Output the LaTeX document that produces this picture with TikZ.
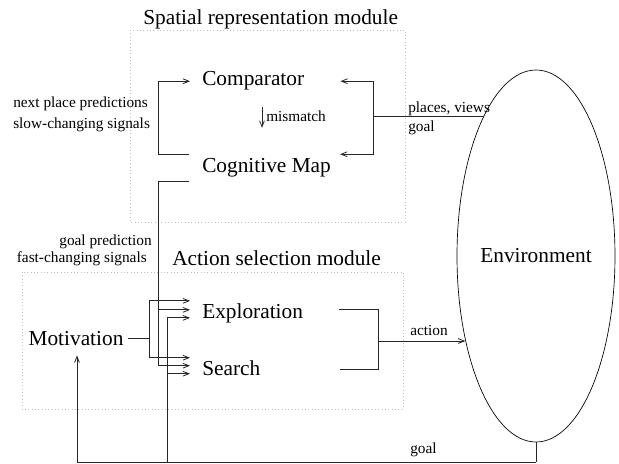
\documentclass[tikz,border=0pt]{standalone}
\usepackage{fontspec}
\setmainfont{Liberation Serif}
\usetikzlibrary{positioning,calc,arrows.meta,shapes.geometric}

\begin{document}
\begin{tikzpicture}[
  x=0.75pt, y=-0.75pt,
  >={Straight Barb[length=4.5pt,width=3.6pt]},
  wire/.style   ={line width=0.6pt, draw=black!85},
  modbox/.style ={draw=black!25, dotted, line width=0.5pt},
  bigtxt/.style ={font=\fontsize{16}{19}\selectfont, inner sep=0pt, anchor=base west},
  smtxt/.style  ={font=\fontsize{11.5}{13}\selectfont, inner sep=0pt, anchor=base west},
]
\useasboundingbox (0,0) rectangle (619,464);
% module frames
\draw[modbox] (130,30) rectangle (405,222);
\draw[modbox] (22,272) rectangle (403,409);
\node[bigtxt] (sptitle) at (143,25)  {Spatial representation module};
\node[bigtxt] (actitle) at (172,265) {Action selection module};
% blocks
\node[bigtxt] (comp)  at (202,85)  {Comparator};
\node[bigtxt] (cmap)  at (202,172) {Cognitive Map};
\node[bigtxt] (expl)  at (202,318) {Exploration};
\node[bigtxt] (srch)  at (202,375) {Search};
\node[bigtxt, anchor=base] (motiv) at (76,345) {Motivation};
\node[draw, ellipse, line width=0.5pt, minimum width=118.5pt, minimum height=279pt,
      font=\fontsize{16}{19}\selectfont, inner sep=0pt] (env) at (536,256) {Environment};
% arrow ends at the action blocks (shifts in px)
\path ([shift={(-12,-12)}]expl.west) coordinate (e1)
      ([shift={(-12,-3)}]expl.west)  coordinate (e2)
      ([shift={(-12,5)}]expl.west)   coordinate (e3)
      ([shift={(-12,-10)}]srch.west) coordinate (s1)
      ([shift={(-12,-2)}]srch.west)  coordinate (s2)
      ([shift={(-12,6)}]srch.west)   coordinate (s3);
% cognitive map -> comparator
\draw[wire,->] ([shift={(-13,-13)}]cmap.west) -- ++(-31,0) |- ([shift={(-12,1)}]comp.west);
\node[smtxt] (npp) at (13,107) {next place predictions};
\node[smtxt] (scs) at (13,128) {slow-changing signals};
% mismatch
\draw[wire,->] ([shift={(60,17)}]comp.south west) -- ++(0,21);
\node[smtxt] (mis) at (266,122) {mismatch};
% environment -> comparator, cognitive map
\coordinate (pv) at (373,116);
\draw[wire] (pv) -- (pv -| env.110.4);
\draw[wire,->] (pv) |- ([shift={(36,1)}]comp.east);
\draw[wire,->] (pv) |- ([shift={(9,-13)}]cmap.east);
\node[smtxt] (plv) at (408,112) {places, views};
\node[smtxt] (gl1) at (408,132) {goal};
% cognitive map -> exploration, search
\draw[wire] ([shift={(-13,14)}]cmap.west) -- ++(-31,0) coordinate (gp);
\draw[wire,->] (gp) |- (e2);
\draw[wire,->] (gp) |- (s2);
\node[smtxt, anchor=base east] (gpr) at (152,245) {goal prediction};
\node[smtxt, anchor=base east] (fcs) at (147,262) {fast-changing signals};
% motivation -> exploration, search
\draw[wire] ([shift={(4,0)}]motiv.east) -- ++(22,0) coordinate (mv);
\draw[wire,->] (mv) |- (e1);
\draw[wire,->] (mv) |- (s1);
% exploration, search -> environment
\draw[wire] ([shift={(36,-3)}]expl.east) -- ++(39,0) coordinate (ab) |- ([shift={(79,2)}]srch.east);
\coordinate (am) at (378,341);
\draw[wire,->] (am) -- (am -| env.230.5);
\node[smtxt] (act) at (410,335) {action};
% environment -> motivation, exploration, search (goal)
\draw[wire] (env.south) -- ++(0,20) coordinate (gb);
\draw[wire,->] (gb) -| ([shift={(1,10)}]motiv.south);
\coordinate (gx) at ([shift={(-23,0)}]e3);
\draw[wire,->] (gx |- gb) |- (e3);
\draw[wire,->] (gx |- gb) |- (s3);
\node[smtxt] (gl2) at (410,453) {goal};
\end{tikzpicture}
\end{document}
